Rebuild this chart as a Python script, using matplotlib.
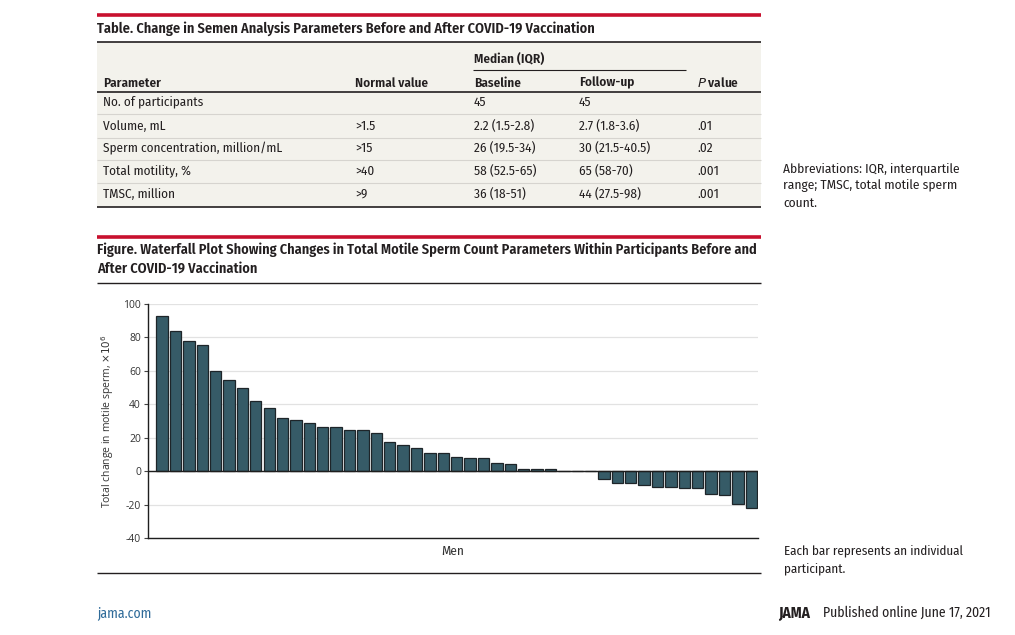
import matplotlib.pyplot as plt
import numpy as np
from matplotlib.lines import Line2D
from matplotlib.patches import Rectangle

plt.rcParams['font.family'] = ['Fira Sans Condensed', 'Roboto Condensed', 'DejaVu Sans']

# waterfall values (change in TMSC per participant, x10^6)
tmsc_change = [93, 84, 78, 75.5, 60, 54.5, 50, 42, 38, 32, 30.5, 29, 26.5, 26.5,
               24.5, 24.5, 23, 17.5, 15.5, 14, 11, 11, 8.5, 8, 8, 5, 4, 1.2,
               1.2, 1.2, 0, 0, 0, -5, -7, -7, -8, -9.5, -9.5, -10, -10, -13.5,
               -14, -19.5, -22]
y_ticks = [-40, -20, 0, 20, 40, 60, 80, 100]

# table content
col_heads = ['Parameter', 'Normal value', 'Baseline', 'Follow-up', '$\\it{P}$ value']
parameters = ['No. of participants', 'Volume, mL', 'Sperm concentration, million/mL',
              'Total motility, %', 'TMSC, million']
normal_vals = ['', '>1.5', '>15', '>40', '>9']
baseline = ['45', '2.2 (1.5-2.8)', '26 (19.5-34)', '58 (52.5-65)', '36 (18-51)']
followup = ['45', '2.7 (1.8-3.6)', '30 (21.5-40.5)', '65 (58-70)', '44 (27.5-98)']
p_values = ['', '.01', '.02', '.001', '.001']

W, H = 1015, 635
fig = plt.figure(figsize=(W / 100, H / 100), dpi=100)
txt = '#231f20'


def T(x, y, s, **kw):
    kw.setdefault('color', txt)
    kw.setdefault('fontsize', 9.5)
    fig.text(x / W, 1 - y / H, s, va='center', ha=kw.pop('ha', 'left'), **kw)


def hline(x0, x1, y, color=txt, lw=1.0):
    fig.add_artist(Line2D([x0 / W, x1 / W], [1 - y / H] * 2, transform=fig.transFigure,
                          color=color, lw=lw, solid_capstyle='butt'))


red = '#c8102e'

# ---- table ----
fig.add_artist(Rectangle((97 / W, 1 - 207 / H), (761 - 97) / W, (207 - 42) / H,
                         transform=fig.transFigure, color='#f3f2ec', zorder=0, lw=0))
hline(97, 761, 15, red, 2.6)
T(97, 29, 'Table. Change in Semen Analysis Parameters Before and After COVID-19 Vaccination',
  fontsize=10.3, fontweight='semibold')
hline(97, 761, 42, txt, 1.2)
T(474, 59, 'Median (IQR)', fontweight='semibold')
hline(473, 686, 70, txt, 0.8)
col_x = [103, 355, 474, 579, 697]
for cx, h in zip(col_x, col_heads):
    T(cx, 83, h, fontweight='semibold')
hline(97, 761, 92, txt, 1.2)
row_y = [102, 126, 148, 171, 194]
for i, ry in enumerate(row_y):
    for cx, col in zip(col_x, [parameters, normal_vals, baseline, followup, p_values]):
        T(cx, ry, col[i])
    if i < len(row_y) - 1:
        hline(97, 761, ry + 12, '#d6d4cf', 0.8)
hline(97, 761, 207, txt, 1.2)

T(783, 169, 'Abbreviations: IQR, interquartile', fontsize=9.6)
T(783, 186, 'range; TMSC, total motile sperm', fontsize=9.6)
T(783, 203, 'count.', fontsize=9.6)

# ---- figure ----
hline(97, 761, 237, red, 2.6)
T(97, 250, 'Figure. Waterfall Plot Showing Changes in Total Motile Sperm Count Parameters Within Participants Before and',
  fontsize=10.3, fontweight='semibold')
T(97, 269, 'After COVID-19 Vaccination', fontsize=10.3, fontweight='semibold')
hline(97, 761, 283, txt, 1.0)

ax = fig.add_axes([148 / W, (H - 538) / H, (758 - 148) / W, (538 - 304) / H])
x = np.arange(len(tmsc_change))
ax.bar(x, tmsc_change, width=0.85, color='#365b67', edgecolor='#1e2529', linewidth=0.9, zorder=3)
ax.set_xlim(-1.05, len(tmsc_change) - 0.5)
ax.set_ylim(-40, 100)
ax.set_yticks(y_ticks)
ax.set_yticklabels([str(v) for v in y_ticks], fontsize=7.5, color='#333333', family='Open Sans')
ax.tick_params(axis='y', length=3, width=0.8, color='#444444', pad=2)
ax.set_xticks([])
ax.grid(axis='y', color='#e2e2e2', lw=0.9, zorder=0)
ax.axhline(0, color='#1e1e1e', lw=1.0, zorder=4)
for s in ['top', 'right']:
    ax.spines[s].set_visible(False)
for s in ['left', 'bottom']:
    ax.spines[s].set_color('#1e1e1e')
    ax.spines[s].set_linewidth(1.0)
ax.set_ylabel('Total change in motile sperm, $\\times10^6$', fontsize=7.5, color='#333333',
              family='Open Sans', labelpad=5)
ax.set_xlabel('Men', fontsize=9.5, color='#333333', labelpad=5)

hline(97, 761, 573, txt, 1.0)
T(784, 551, 'Each bar represents an individual', fontsize=9.4)
T(784, 569, 'participant.', fontsize=9.4)

# ---- footer ----
T(97, 613, 'jama.com', fontsize=9.9, color='#2f6b99')
T(778, 613, 'JAMA', fontsize=11, fontweight='bold')
T(823, 613, 'Published online June 17, 2021', fontsize=9.9)

fig.savefig('out.png', dpi=100)
